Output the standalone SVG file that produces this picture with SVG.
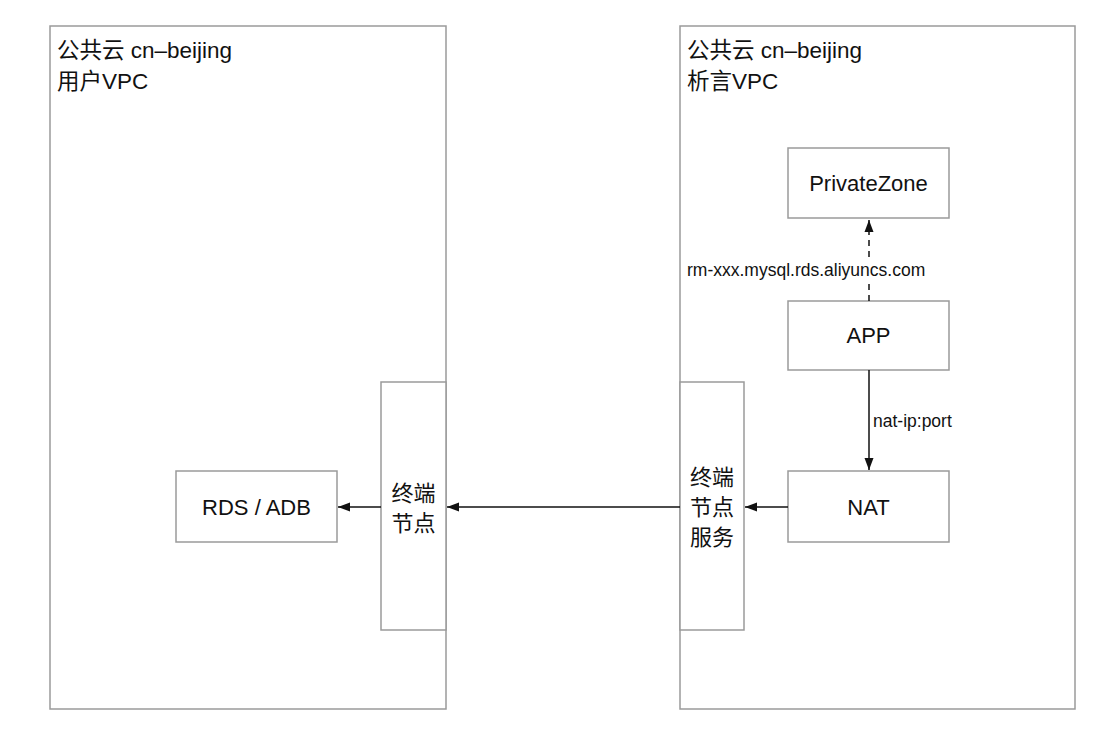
<svg xmlns="http://www.w3.org/2000/svg" width="1120" height="740" viewBox="0 0 1120 740">
<defs>
<style>
.box{fill:#fff;stroke:#9a9a9a;stroke-width:1.5}
.t{font-family:"Liberation Sans","Noto Sans CJK SC",sans-serif;fill:#111}
.n{font-size:22px;text-anchor:middle;dominant-baseline:central}
.h{font-size:22.5px}
.l{font-size:17.5px;dominant-baseline:central}
.c{stroke:#111;stroke-width:1.5;fill:none}
</style>
<marker id="ah" viewBox="0 0 12 10" refX="12" refY="5" markerWidth="12" markerHeight="10" markerUnits="userSpaceOnUse" orient="auto">
<path d="M0,0.5 L12,5 L0,9.5 Z" fill="#111"/>
</marker>
</defs>
<rect width="1120" height="740" fill="#fff"/>
<g id="vpc-user">
<rect class="box" x="50" y="26" width="396" height="683"/>
<text class="t h" x="57" y="58">公共云 cn–beijing</text>
<text class="t h" x="57" y="89">用户VPC</text>
</g>
<g id="vpc-xiyan">
<rect class="box" x="680" y="26" width="395" height="683"/>
<text class="t h" x="687" y="58">公共云 cn–beijing</text>
<text class="t h" x="687" y="89">析言VPC</text>
</g>
<g id="endpoint">
<rect class="box" x="381" y="382" width="65" height="248"/>
<text class="t n" x="413.5" y="493">终端</text>
<text class="t n" x="413.5" y="523">节点</text>
</g>
<g id="endpoint-service">
<rect class="box" x="680" y="382" width="64" height="248"/>
<text class="t n" x="712" y="477">终端</text>
<text class="t n" x="712" y="507">节点</text>
<text class="t n" x="712" y="537">服务</text>
</g>
<g id="rds">
<rect class="box" x="176" y="471" width="161" height="71"/>
<text class="t n" x="256.5" y="507">RDS / ADB</text>
</g>
<g id="privatezone">
<rect class="box" x="788" y="148" width="161" height="70"/>
<text class="t n" x="868.5" y="183">PrivateZone</text>
</g>
<g id="app">
<rect class="box" x="788" y="301" width="161" height="69"/>
<text class="t n" x="868.5" y="335.5">APP</text>
</g>
<g id="nat">
<rect class="box" x="788" y="471" width="161" height="71"/>
<text class="t n" x="868.5" y="507">NAT</text>
</g>
<g id="connectors">
<line class="c" x1="869" y1="301" x2="869" y2="220" stroke-dasharray="6,5" marker-end="url(#ah)"/>
<line class="c" x1="869" y1="370" x2="869" y2="470" marker-end="url(#ah)"/>
<line class="c" x1="788" y1="507" x2="745" y2="507" marker-end="url(#ah)"/>
<line class="c" x1="680" y1="507" x2="447" y2="507" marker-end="url(#ah)"/>
<line class="c" x1="381" y1="507" x2="338" y2="507" marker-end="url(#ah)"/>
<rect x="684" y="259" width="244" height="22" fill="#fff"/>
<text class="t l" x="687" y="270">rm-xxx.mysql.rds.aliyuncs.com</text>
<text class="t l" x="873" y="421">nat-ip:port</text>
</g>
</svg>
